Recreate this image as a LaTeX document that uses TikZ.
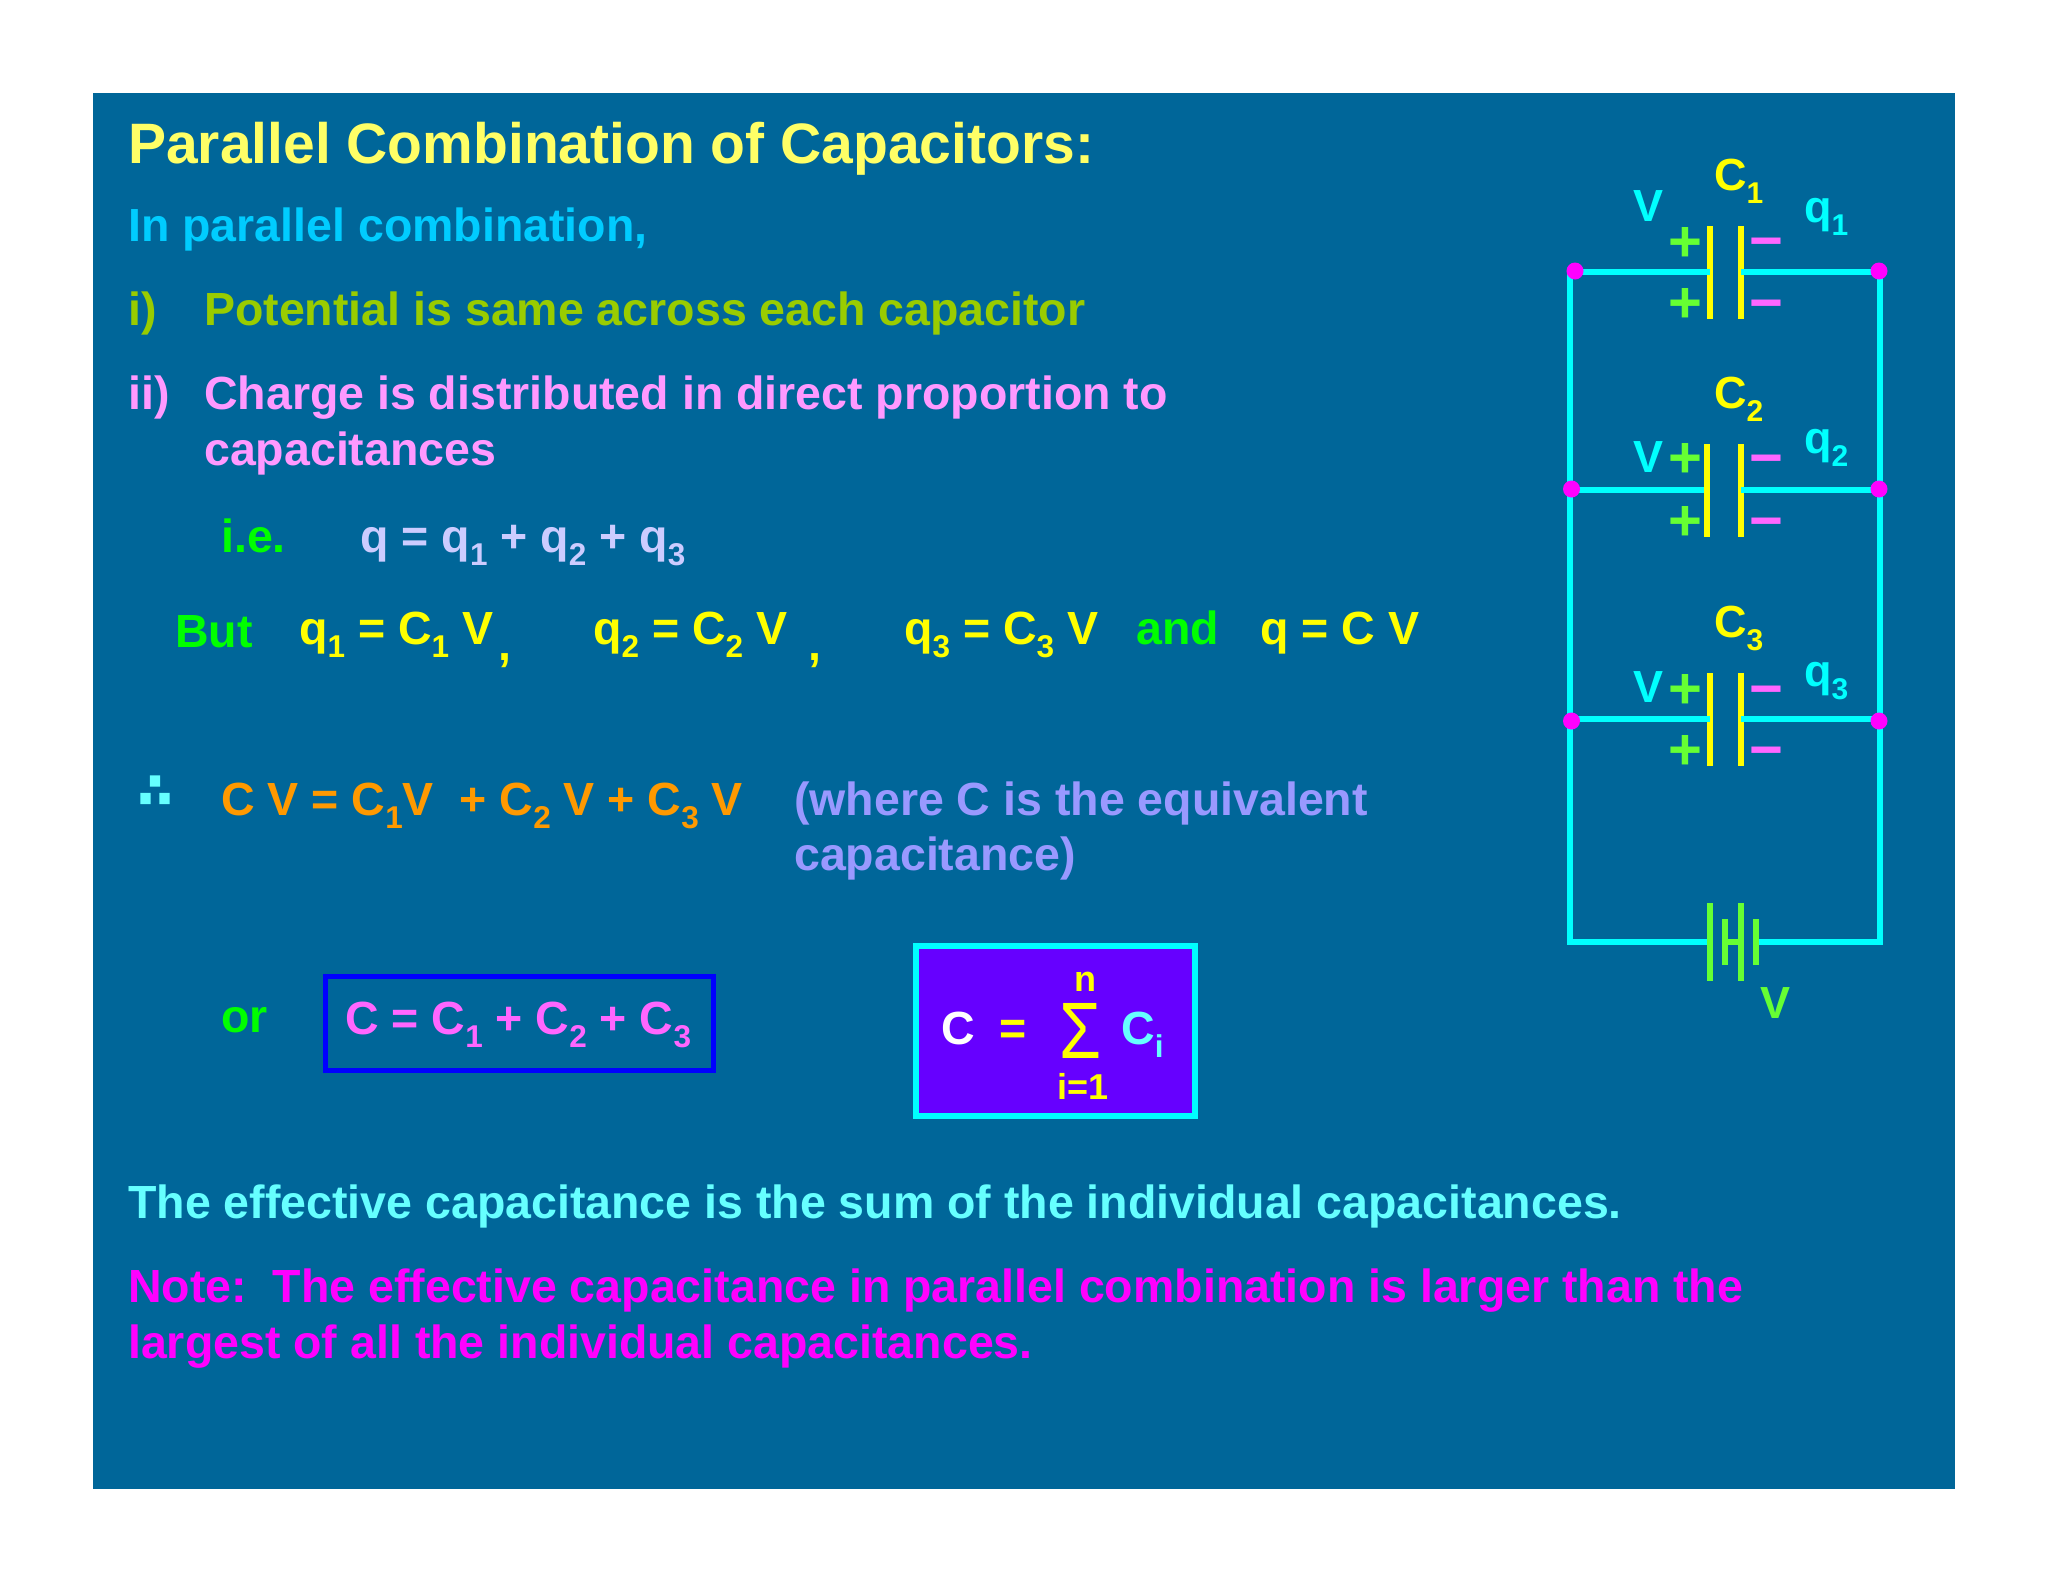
\documentclass[tikz,border=0pt]{standalone}
\usepackage{fontspec}
\setmainfont{Liberation Sans}[BoldFont={Liberation Sans Bold}]
\newfontfamily\symfont[FakeBold=12]{DejaVu Sans}
\definecolor{slide}{HTML}{006699}
\definecolor{titleyellow}{HTML}{FFFF66}
\definecolor{skyblue}{HTML}{00CCFF}
\definecolor{olive}{HTML}{99CC00}
\definecolor{lilac}{HTML}{FF99FF}
\definecolor{brightgreen}{HTML}{00FF00}
\definecolor{paleblue}{HTML}{CCCCFF}
\definecolor{wirecyan}{HTML}{00FFFF}
\definecolor{palecyan}{HTML}{66FFFF}
\definecolor{orange2}{HTML}{FF9900}
\definecolor{periwinkle}{HTML}{9999FF}
\definecolor{pink2}{HTML}{FF66FF}
\definecolor{leaf}{HTML}{66FF33}
\definecolor{violet2}{HTML}{6600FF}
\definecolor{platey}{HTML}{FFFF00}
\definecolor{dotm}{HTML}{FF00FF}
\newcommand{\sbs}[1]{\raisebox{-13pt}{\fontsize{31.5}{31.5}\selectfont #1}}
\newcommand{\sbc}[1]{\raisebox{-13pt}{\fontsize{30}{30}\selectfont #1}}
\tikzset{
  txt/.style={anchor=base west, inner sep=0pt, font=\fontsize{46.5}{46.5}\selectfont\bfseries},
  lab/.style={txt, font=\fontsize{45}{45}\selectfont\bfseries},
  wire/.style={draw=wirecyan, line width=6pt, line join=miter},
  joint/.style={circle, fill=dotm, inner sep=0pt, minimum size=17pt},
  plate/.style={rectangle, fill=platey, inner sep=0pt, minimum width=6pt, minimum height=93pt},
  cell/.style={plate, fill=leaf, minimum height=78pt},
  thincell/.style={plate, fill=leaf, minimum height=46pt},
  sign/.style={inner sep=0pt, font=\fontsize{58}{58}\selectfont\bfseries},
}
\begin{document}
\begin{tikzpicture}[x=1pt, y=-1pt]
\useasboundingbox (0,0) rectangle (2048,1582);
\fill[slide] (93,93) rectangle (1955,1489);
% left column text
\node (title) [txt, text=titleyellow, font=\fontsize{57}{57}\selectfont\bfseries] at (128,163) {Parallel Combination of Capacitors:};
\node (intro) [txt, text=skyblue] at (128,241) {In parallel combination,};
\node (ione) [txt, text=olive] at (128,325) {i)};
\node (ionetxt) [txt, text=olive] at (204,325) {Potential is same across each capacitor};
\node (itwo) [txt, text=lilac] at (128,409) {ii)};
\node (itwotxt) [txt, text=lilac] at (204,409) {Charge is distributed in direct proportion to};
\node (itwomore) [txt, text=lilac] at (204,465) {capacitances};
\node (ie) [txt, text=brightgreen] at (221,552) {i.e.};
\node (qsum) [txt, text=paleblue] at (360,552) {q = q\sbs{1} + q\sbs{2} + q\sbs{3}};
\node (but) [txt, text=brightgreen] at (175,647) {But};
\node (qone) [txt, text=platey] at (299,644) {q\sbs{1} = C\sbs{1} V};
\node (commaone) [txt, text=platey] at (498,660) {,};
\node (qtwo) [txt, text=platey] at (593,644) {q\sbs{2} = C\sbs{2} V};
\node (commatwo) [txt, text=platey] at (808,660) {,};
\node (qthree) [txt, text=platey] at (904,644) {q\sbs{3} = C\sbs{3} V};
\node (and) [txt, text=brightgreen] at (1136,644) {and};
\node (qall) [txt, text=platey] at (1260,644) {q = C V};
\node (therefore) [text=palecyan, inner sep=0pt, font=\fontsize{46}{46}\symfont] at (155,792) {∴};
\node (cv) [txt, text=orange2] at (221,815) {C V = C\sbs{1}V\ \ + C\sbs{2} V + C\sbs{3} V};
\node (where) [txt, text=periwinkle] at (794,815) {(where C is the equivalent};
\node (wheremore) [txt, text=periwinkle] at (794,870) {capacitance)};
\node (or) [txt, text=brightgreen] at (221,1032) {or};
\node (sumbox) [draw=blue, line width=5pt, minimum width=388pt, minimum height=94pt, inner sep=0pt] at (519.5,1023.5) {};
\node (sumtxt) [txt, text=pink2] at (345,1034) {C = C\sbs{1} + C\sbs{2} + C\sbs{3}};
\node (sigmabox) [draw=wirecyan, fill=violet2, line width=6pt, minimum width=279pt, minimum height=170pt, inner sep=0pt] at (1055.5,1031) {};
\node (ceq) [txt, text=white] at (941,1044) {C};
\node (eq) [txt, text=platey] at (999,1044) {=};
\node (sigma) [inner sep=0pt, text=platey, font=\fontsize{80}{80}\selectfont] at (1081,1031) {\scalebox{0.85}[1]{Σ}};
\node (upper) [txt, anchor=base, text=platey, font=\fontsize{36}{36}\selectfont\bfseries] at (1085,991) {n};
\node (lower) [txt, anchor=base, text=platey, font=\fontsize{36}{36}\selectfont\bfseries] at (1083,1099) {i=1};
\node (ci) [txt, text=palecyan] at (1121,1044) {C\sbs{i}};
\node (sumline) [txt, text=palecyan] at (128,1218) {The effective capacitance is the sum of the individual capacitances.};
\node (note) [txt, text=dotm] at (128,1302) {Note:\ \ The effective capacitance in parallel combination is larger than the};
\node (notemore) [txt, text=dotm] at (128,1358) {largest of all the individual capacitances.};
% circuit
\coordinate (TL) at (1570,272);
\coordinate (TR) at (1880,272);
\coordinate (BL) at (1570,942);
\coordinate (BR) at (1880,942);
\node (Aa) [plate] at (1710,272) {};
\node (Ab) [plate] at (1741,272) {};
\node (Ba) [plate] at (1707,490) {};
\node (Bb) [plate] at (1741,490) {};
\node (Ca) [plate] at (1710,719) {};
\node (Cb) [plate] at (1741,719) {};
\node (Ea) [cell] at (1710,942) {};
\node (Eb) [thincell] at (1725,942) {};
\node (Ec) [cell] at (1741,942) {};
\node (Ed) [thincell] at (1756,942) {};
\draw[wire] (TL) -- (BL) -- (Ea);
\draw[wire] (Ed) -- (BR) -- (TR);
\draw[wire, draw=leaf] (Eb) -- (Ec);
\coordinate (LAw) at (1575,272);
\coordinate (RAw) at (1879,272);
\coordinate (LBw) at (1571.5,490);
\coordinate (RBw) at (1879,490);
\coordinate (LCw) at (1571.5,719);
\coordinate (RCw) at (1879,719);
\draw[wire] (LAw) -- (Aa.center);
\draw[wire] (Ab.center) -- (RAw);
\draw[wire] (LBw) -- (Ba);
\draw[wire] (Bb.center) -- (RBw);
\draw[wire] (LCw) -- (Ca.center);
\draw[wire] (Cb.center) -- (RCw);
\node (LA) [joint] at (1575,271) {};
\node (RA) [joint] at (1879,271) {};
\node (LB) [joint] at (1571.5,489) {};
\node (RB) [joint] at (1879,489) {};
\node (LC) [joint] at (1571.5,721) {};
\node (RC) [joint] at (1879,721) {};
% labels on the circuit
\node (CAl) [lab, text=platey] at (1714,190) {C\sbc{1}};
\node (CBl) [lab, text=platey] at (1714,408) {C\sbc{2}};
\node (CCl) [lab, text=platey] at (1714,637) {C\sbc{3}};
\node (VA) [lab, text=wirecyan] at (1633,221) {V};
\node (VB) [lab, text=wirecyan] at (1633,472) {V};
\node (VC) [lab, text=wirecyan] at (1633,702) {V};
\node (qA) [lab, text=wirecyan] at (1804,222) {q\sbc{1}};
\node (qB) [lab, text=wirecyan] at (1804,453) {q\sbc{2}};
\node (qC) [lab, text=wirecyan] at (1804,686) {q\sbc{3}};
\node (VE) [lab, text=leaf] at (1760,1018) {V};
\node (pAa) [sign, text=leaf] at (1685,244) {+};
\node (pAb) [sign, text=leaf] at (1685,305) {+};
\node (pBa) [sign, text=leaf] at (1685,460) {+};
\node (pBb) [sign, text=leaf] at (1685,523) {+};
\node (pCa) [sign, text=leaf] at (1685,691) {+};
\node (pCb) [sign, text=leaf] at (1685,752) {+};
\node (mAa) [sign, text=pink2] at (1766,249) {−};
\node (mAb) [sign, text=pink2] at (1766,311) {−};
\node (mBa) [sign, text=pink2] at (1766,466) {−};
\node (mBb) [sign, text=pink2] at (1766,529) {−};
\node (mCa) [sign, text=pink2] at (1766,697) {−};
\node (mCb) [sign, text=pink2] at (1766,758) {−};
\end{tikzpicture}
\end{document}
